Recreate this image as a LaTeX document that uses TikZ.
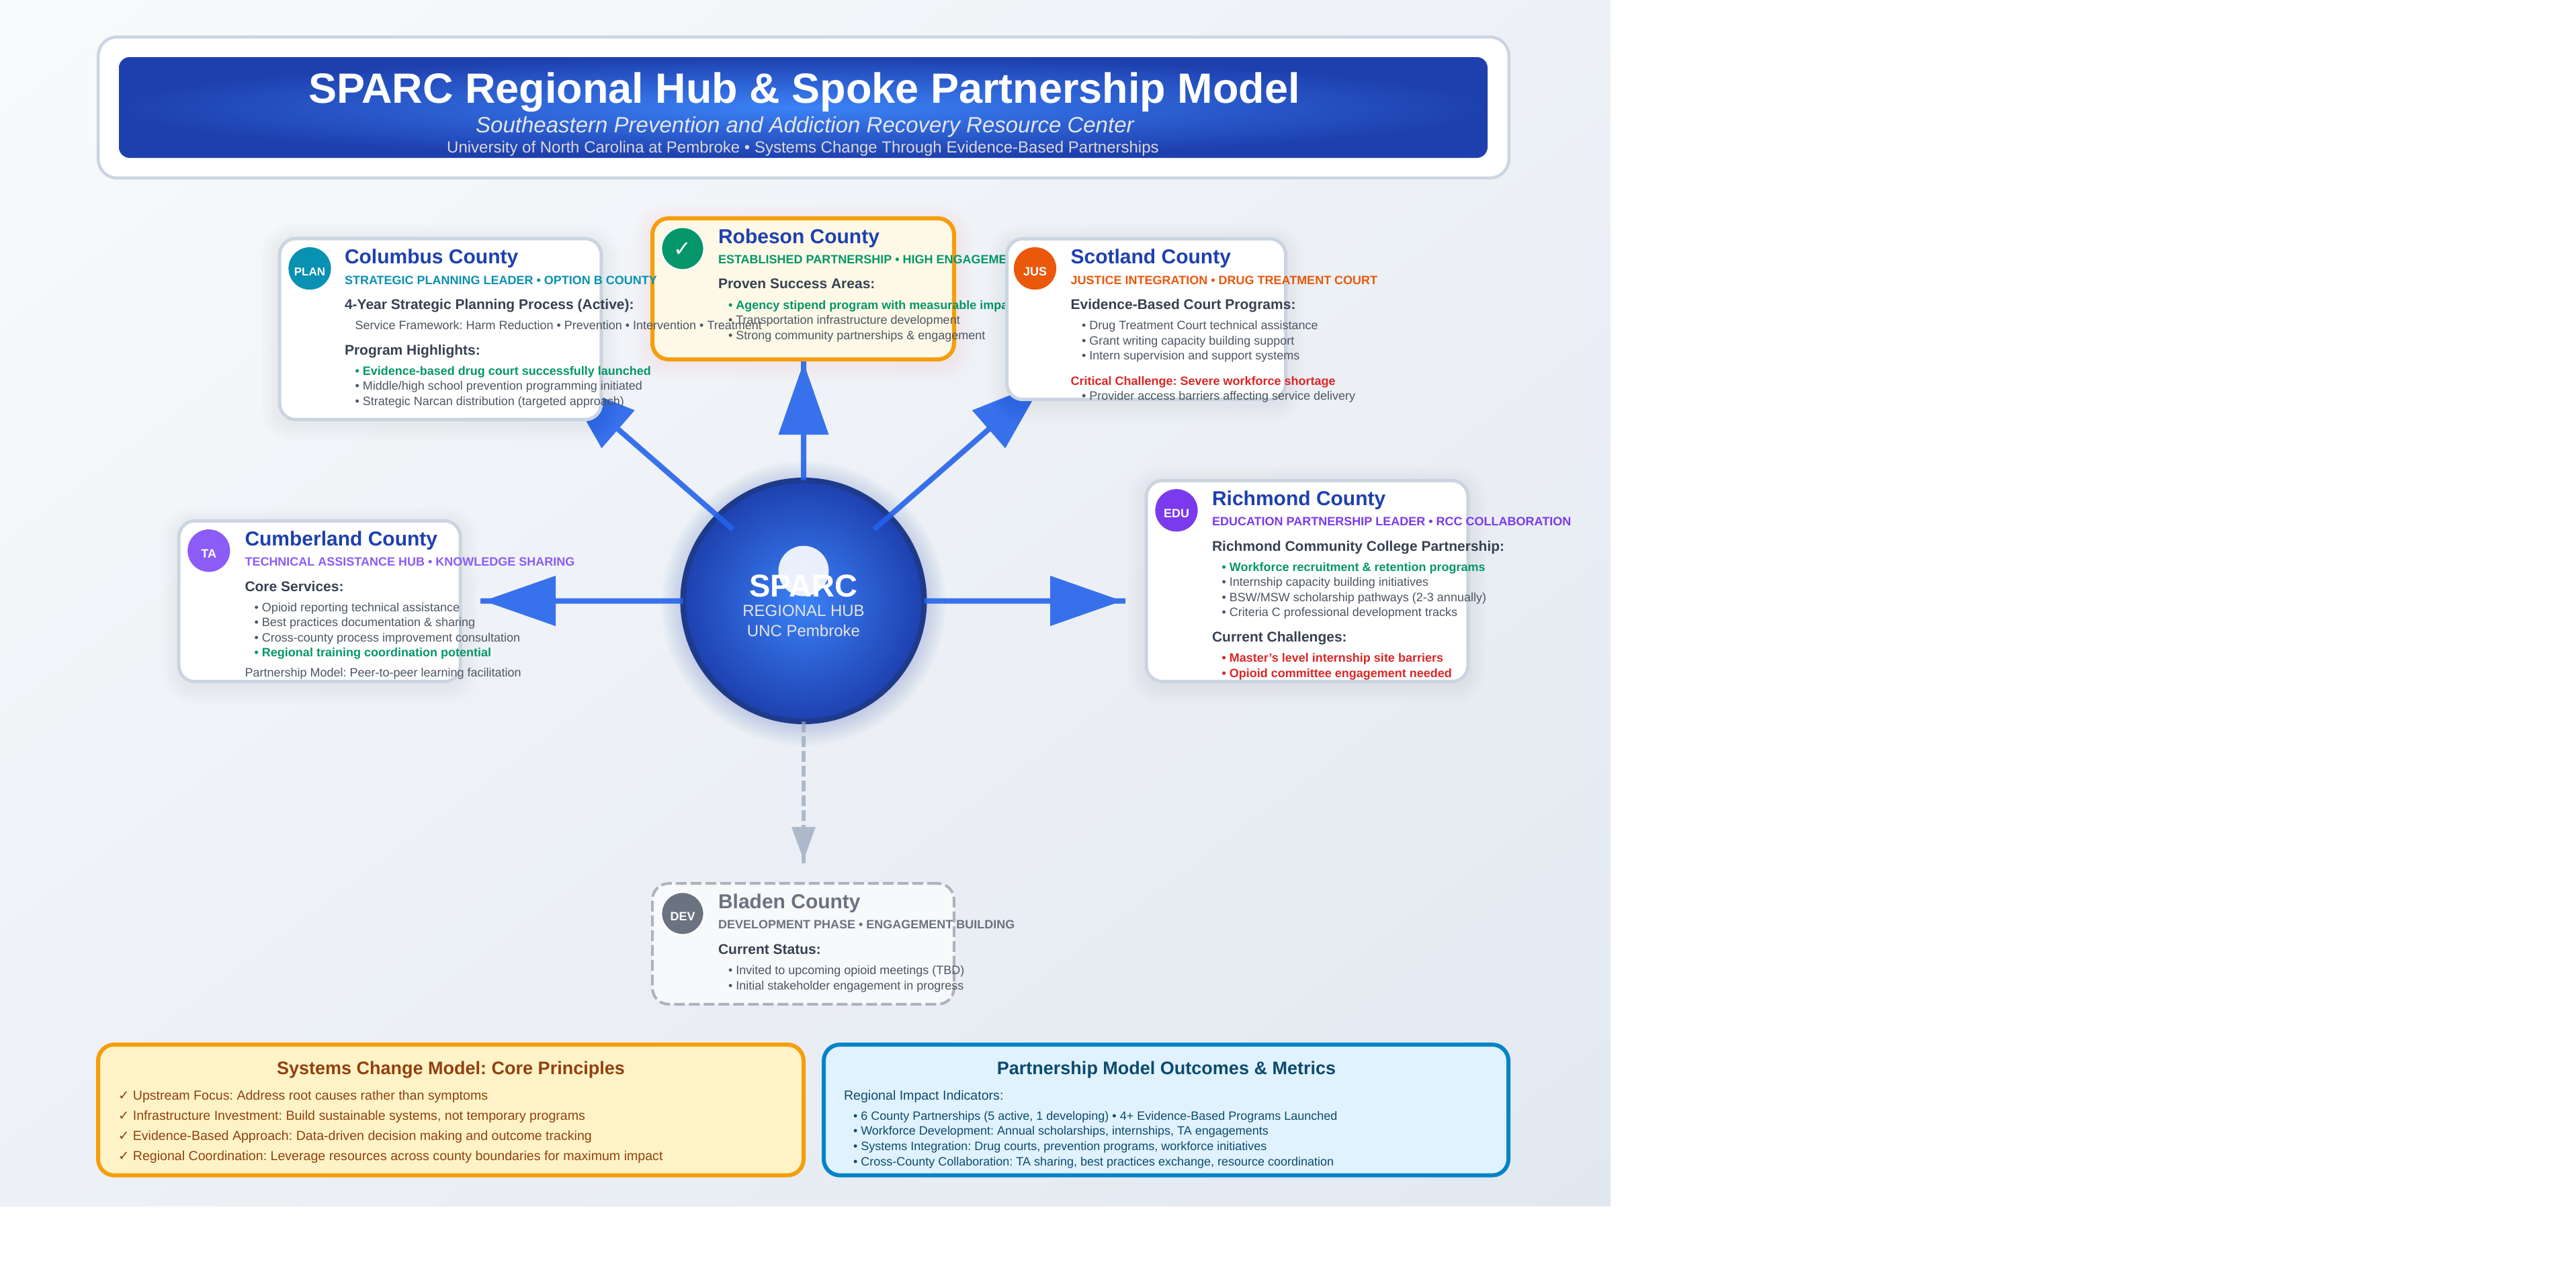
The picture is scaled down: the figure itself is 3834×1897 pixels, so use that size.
\documentclass[tikz,border=0pt]{standalone}
\usepackage{fontspec}
\setmainfont{Liberation Sans}
\newfontfamily\dvfont{DejaVu Sans}
\frenchspacing
\usetikzlibrary{arrows.meta}
\definecolor{bgA}{HTML}{F8FAFC}
\definecolor{bgB}{HTML}{E2E8F0}
\definecolor{hubIn}{HTML}{3B82F6}
\definecolor{hubOut}{HTML}{1E40AF}
\definecolor{hubRim}{HTML}{1E3A8A}
\definecolor{spoke}{HTML}{2563EB}
\definecolor{devline}{HTML}{94A3B8}
\definecolor{cardline}{HTML}{CBD5E1}
\definecolor{amber}{HTML}{F59E0B}
\definecolor{amberfill}{HTML}{FEF3C7}
\definecolor{creamfill}{HTML}{FEF9E7}
\definecolor{skyfill}{HTML}{E0F2FE}
\definecolor{nameblue}{HTML}{1E40AF}
\definecolor{body}{HTML}{4B5563}
\definecolor{head}{HTML}{374151}
\definecolor{good}{HTML}{059669}
\definecolor{bad}{HTML}{DC2626}
\definecolor{teal}{HTML}{0891B2}
\definecolor{orangeC}{HTML}{EA580C}
\definecolor{violetA}{HTML}{8B5CF6}
\definecolor{violetB}{HTML}{7C3AED}
\definecolor{greyC}{HTML}{6B7280}
\definecolor{brownC}{HTML}{92400E}
\definecolor{navyC}{HTML}{0C4A6E}
\definecolor{skyC}{HTML}{0284C7}
\pgfdeclareradialshading{hubshade}{\pgfpointorigin}{color(0bp)=(hubIn); color(25bp)=(hubOut); color(50bp)=(hubOut)}
\newcommand{\softshadow}[6]{% cx cy w h color opacity (px; w,h outer size)
  \foreach \k in {1,...,12}{
    \pgfmathsetmacro{\rr}{12+1.1*\k}
    \fill[#5,opacity=#6,rounded corners=\rr pt]
      ({#1-(#3)/2-2.2*\k},{#2-(#4)/2-2.2*\k+6}) rectangle ({#1+(#3)/2+2.2*\k},{#2+(#4)/2+2.2*\k+6});
  }}
\tikzset{
  x=0.5pt,y=-0.5pt,
  cardbox/.style={shape=rectangle,rounded corners=12pt,inner sep=0pt,outer sep=0pt,fill=white,draw=cardline,line width=2.5pt},
  badge/.style={shape=circle,minimum size=31.6pt,inner sep=0pt,outer sep=0pt,fill=#1},
  ringed/.style={draw=white,line width=1pt},
  tx/.style={anchor=base west,inner sep=0pt,outer sep=0pt},
  txc/.style={anchor=base,inner sep=0pt,outer sep=0pt},
  cname/.style={tx,font=\fontsize{15}{15}\selectfont\bfseries,text=nameblue},
  ctag/.style={tx,font=\fontsize{9}{9}\selectfont\bfseries,text=#1},
  chead/.style={tx,font=\fontsize{10.5}{10.5}\selectfont\bfseries,text=head},
  cbody/.style={tx,font=\fontsize{9}{9}\selectfont,text=body},
  cgood/.style={tx,font=\fontsize{9}{9}\selectfont\bfseries,text=good},
  cbad/.style={tx,font=\fontsize{9}{9}\selectfont\bfseries,text=bad},
  btext/.style={txc,font=\fontsize{9}{9}\selectfont\bfseries,text=white},
  spokeline/.style={draw=spoke,line width=4pt,-{Triangle[length=53.5pt,width=37.5pt,line width=0pt,sep=-7.5pt]Rectangle[length=10pt,width=4pt,line width=0pt]}},
  devspoke/.style={draw=devline,line width=3pt,dash pattern=on 8pt off 3pt,-{Triangle[length=24.5pt,width=18pt,line width=0pt,sep=-3.5pt]Rectangle[length=6pt,width=3pt,line width=0pt]}},
  panel/.style={shape=rectangle,rounded corners=12pt,inner sep=0pt,outer sep=0pt,line width=3pt},
  ptitle/.style={txc,font=\fontsize{13.5}{13.5}\selectfont\bfseries,text=#1},
  pline/.style={tx,font=\fontsize{9.8}{9.8}\selectfont,text=#1},
  mline/.style={tx,font=\fontsize{9}{9}\selectfont,text=navyC},
}
\begin{document}
\begin{tikzpicture}
\useasboundingbox (0,0) rectangle (3834,1897);
\fill[white] (0,0) rectangle (3834,1897);
% page background
\begin{scope}
\clip (0,0) rectangle (2396,1795);
\foreach \i in {0,...,44}{
  \pgfmathsetmacro{\t}{\i/44}
  \pgfmathsetmacro{\p}{100*\t}
  \fill[bgB!\p!bgA] ({2*\t*2396},0) -- (4792,0) -- (4792,3590) -- (0,3590) -- (0,{2*\t*1795}) -- cycle;
}
\end{scope}
% header
\node[shape=rectangle,rounded corners=14pt,inner sep=0pt,outer sep=0pt,fill=white,draw=cardline,line width=2.25pt,minimum width=1049.8pt,minimum height=104.9pt] (headerframe) at (1196,160) {};
\node[shape=rectangle,rounded corners=8pt,inner sep=0pt,outer sep=0pt,shading=hubshade,minimum width=1018.5pt,minimum height=75pt] (headerband) at (1195.5,160) {};
\node[txc,font=\fontsize{31.5}{31.5}\selectfont\bfseries,text=white] (title) at (1197,153) {SPARC Regional Hub \& Spoke Partnership Model};
\node[txc,font=\fontsize{16.5}{16.5}\selectfont\itshape,text=white!90!black] (subtitle) at (1198,197) {Southeastern Prevention and Addiction Recovery Resource Center};
\node[txc,font=\fontsize{12}{12}\selectfont,text=white!85!black] (tagline) at (1195,227) {University of North Carolina at Pembroke • Systems Change Through Evidence-Based Partnerships};
% hub
\foreach \k in {1,...,12}{
  \fill[hubOut,opacity=.014] (1196,898.5) circle ({(181+2.6*\k)*0.5pt});
}
\node[shape=circle,shading=hubshade,draw=hubRim,line width=4pt,minimum size=179.5pt,inner sep=0pt,outer sep=0pt] (hub) at (1196,894.5) {};
\fill[white,opacity=.9] (1196,850) circle (18.75pt);
\node[txc,font=\fontsize{23.5}{23.5}\selectfont\bfseries,text=white] (hubname) at (1196,888) {SPARC};
\node[txc,font=\fontsize{12}{12}\selectfont,text=white!90!black] (hubrole) at (1196,917.7) {REGIONAL HUB};
\node[txc,font=\fontsize{12}{12}\selectfont,text=white!90!black] (hubplace) at (1196,947.3) {UNC Pembroke};
% connector ends
\coordinate (startNW) at (1091,788);
\coordinate (startNE) at (1301,788);
\coordinate (endN) at (1196,535);
\coordinate (endNW) at (835.6,565.4);
\coordinate (endNE) at (1555.9,565.4);
\coordinate (endE) at (1675,894.5);
\coordinate (endW) at (715,894.5);
\coordinate (endS) at (1196,1285);
\begin{scope}[transparency group,opacity=.9]
\draw[spokeline] (hub.north) -- (endN);
\draw[spokeline] (startNW) -- (endNW);
\draw[spokeline] (startNE) -- (endNE);
\draw[spokeline] (hub.east) -- (endE);
\draw[spokeline] (hub.west) -- (endW);
\end{scope}
\begin{scope}[transparency group,opacity=.7]
\draw[devspoke] (hub.south) -- (endS);
\end{scope}
% Robeson
\softshadow{1195.5}{430}{455}{216}{amber}{.005}
\node[cardbox,fill=creamfill,draw=amber,line width=3pt,minimum width=224.5pt,minimum height=105pt] (robeson) at (1195.5,430) {};
\node[badge=good,ringed] (robesonB) at (1016,370) {};
\node[txc,font=\fontsize{16}{16}\selectfont\dvfont,text=white] (robesonBT) at (1016,381.7) {✓};
\node[cname] (robesonN) at (1069,362.7) {Robeson County};
\node[ctag=good] (robesonS) at (1069,392.7) {ESTABLISHED PARTNERSHIP • HIGH ENGAGEMENT};
\node[chead] (robesonH) at (1069,429.3) {Proven Success Areas:};
\node[cgood] (robesonA) at (1084,460) {• Agency stipend program with measurable impact};
\node[cbody] (robesonC) at (1084,482.7) {• Transportation infrastructure development};
\node[cbody] (robesonD) at (1084,505) {• Strong community partnerships \& engagement};
% Columbus
\softshadow{655.5}{489.9}{483}{274.3}{black}{.004}
\node[cardbox,minimum width=239.4pt,minimum height=134.7pt] (columbus) at (655.5,489.9) {};
\node[badge=teal] (columbusB) at (461,399.6) {};
\node[btext,font=\fontsize{8.5}{8.5}\selectfont\bfseries] (columbusBT) at (461,410.7) {PLAN};
\node[cname] (columbusN) at (513,392.7) {Columbus County};
\node[ctag=teal] (columbusS) at (513,423) {STRATEGIC PLANNING LEADER • OPTION B COUNTY};
\node[chead] (columbusH) at (513,460) {4-Year Strategic Planning Process (Active):};
\node[cbody] (columbusA) at (528.5,490) {Service Framework: Harm Reduction • Prevention • Intervention • Treatment};
\node[chead] (columbusH2) at (513,528) {Program Highlights:};
\node[cgood] (columbusC) at (528.5,558) {• Evidence-based drug court successfully launched};
\node[cbody] (columbusD) at (528.5,580.7) {• Middle/high school prevention programming initiated};
\node[cbody] (columbusE) at (528.5,603) {• Strategic Narcan distribution (targeted approach)};
% Scotland
\softshadow{1706}{475}{420}{244}{black}{.004}
\node[cardbox,minimum width=207.5pt,minimum height=119.7pt] (scotland) at (1706,475) {};
\node[badge=orangeC] (scotlandB) at (1540.5,399.6) {};
\node[btext] (scotlandBT) at (1540.5,410.7) {JUS};
\node[cname] (scotlandN) at (1593.6,392.7) {Scotland County};
\node[ctag=orangeC] (scotlandS) at (1593.6,423) {JUSTICE INTEGRATION • DRUG TREATMENT COURT};
\node[chead] (scotlandH) at (1593.6,460) {Evidence-Based Court Programs:};
\node[cbody] (scotlandA) at (1610,490) {• Drug Treatment Court technical assistance};
\node[cbody] (scotlandC) at (1610,513) {• Grant writing capacity building support};
\node[cbody] (scotlandD) at (1610,535) {• Intern supervision and support systems};
\node[cbad] (scotlandE) at (1593.6,573) {Critical Challenge: Severe workforce shortage};
\node[cbody] (scotlandF) at (1610,595) {• Provider access barriers affecting service delivery};
% Cumberland
\softshadow{475.7}{895}{422.5}{244}{black}{.004}
\node[cardbox,minimum width=209.5pt,minimum height=119.7pt] (cumberland) at (475.7,895) {};
\node[badge=violetA] (cumberlandB) at (310.8,819.7) {};
\node[btext] (cumberlandBT) at (310.8,830.7) {TA};
\node[cname] (cumberlandN) at (364.5,812.7) {Cumberland County};
\node[ctag=violetA] (cumberlandS) at (364.5,842.7) {TECHNICAL ASSISTANCE HUB • KNOWLEDGE SHARING};
\node[chead] (cumberlandH) at (364.5,880) {Core Services:};
\node[cbody] (cumberlandA) at (378.7,910) {• Opioid reporting technical assistance};
\node[cbody] (cumberlandC) at (378.7,932.7) {• Best practices documentation \& sharing};
\node[cbody] (cumberlandD) at (378.7,955) {• Cross-county process improvement consultation};
\node[cgood] (cumberlandE) at (378.7,977.7) {• Regional training coordination potential};
\node[cbody] (cumberlandF) at (364.5,1007.7) {Partnership Model: Peer-to-peer learning facilitation};
% Richmond
\softshadow{1945.5}{865}{483}{304}{black}{.004}
\node[cardbox,minimum width=239.4pt,minimum height=149.6pt] (richmond) at (1945.5,865) {};
\node[badge=violetB] (richmondB) at (1751,759.7) {};
\node[btext] (richmondBT) at (1751,770.7) {EDU};
\node[cname] (richmondN) at (1804,752.7) {Richmond County};
\node[ctag=violetB] (richmondS) at (1804,782.7) {EDUCATION PARTNERSHIP LEADER • RCC COLLABORATION};
\node[chead] (richmondH) at (1804,820) {Richmond Community College Partnership:};
\node[cgood] (richmondA) at (1818.6,850) {• Workforce recruitment \& retention programs};
\node[cbody] (richmondC) at (1818.6,872.7) {• Internship capacity building initiatives};
\node[cbody] (richmondD) at (1818.6,895) {• BSW/MSW scholarship pathways (2-3 annually)};
\node[cbody] (richmondE) at (1818.6,917.7) {• Criteria C professional development tracks};
\node[chead] (richmondH2) at (1804,955) {Current Challenges:};
\node[cbad] (richmondF) at (1818.6,985) {• Master's level internship site barriers};
\node[cbad] (richmondG) at (1818.6,1008) {• Opioid committee engagement needed};
% Bladen
\node[cardbox,fill=white,fill opacity=.65,draw=greyC,draw opacity=.5,line width=2pt,dash pattern=on 8pt off 3pt,minimum width=224.4pt,minimum height=89.8pt] (bladen) at (1195.5,1405) {};
\node[badge=greyC,ringed] (bladenB) at (1016,1359.8) {};
\node[btext] (bladenBT) at (1016,1370.7) {DEV};
\node[cname,text=greyC] (bladenN) at (1069,1352.7) {Bladen County};
\node[ctag=greyC] (bladenS) at (1069,1382.7) {DEVELOPMENT PHASE • ENGAGEMENT BUILDING};
\node[chead] (bladenH) at (1069,1420) {Current Status:};
\node[cbody] (bladenA) at (1084,1450.7) {• Invited to upcoming opioid meetings (TBD)};
\node[cbody] (bladenC) at (1084,1473) {• Initial stakeholder engagement in progress};
% Bottom panels
\node[panel,fill=amberfill,draw=amber,minimum width=525pt,minimum height=97.3pt] (principles) at (671,1652.3) {};
\node[ptitle=brownC] (principlesT) at (671,1599.3) {Systems Change Model: Core Principles};
\node[pline=brownC] (principlesA) at (176,1637) {{\dvfont ✓} Upstream Focus: Address root causes rather than symptoms};
\node[pline=brownC] (principlesC) at (176,1667) {{\dvfont ✓} Infrastructure Investment: Build sustainable systems, not temporary programs};
\node[pline=brownC] (principlesD) at (176,1697) {{\dvfont ✓} Evidence-Based Approach: Data-driven decision making and outcome tracking};
\node[pline=brownC] (principlesE) at (176,1727) {{\dvfont ✓} Regional Coordination: Leverage resources across county boundaries for maximum impact};
\node[panel,fill=skyfill,draw=skyC,minimum width=509.5pt,minimum height=97.3pt] (metrics) at (1735.5,1652.3) {};
\node[ptitle=navyC] (metricsT) at (1736,1599.3) {Partnership Model Outcomes \& Metrics};
\node[pline=navyC] (metricsH) at (1256,1637) {Regional Impact Indicators:};
\node[mline] (metricsA) at (1270,1667) {• 6 County Partnerships (5 active, 1 developing) • 4+ Evidence-Based Programs Launched};
\node[mline] (metricsC) at (1270,1689) {• Workforce Development: Annual scholarships, internships, TA engagements};
\node[mline] (metricsD) at (1270,1712) {• Systems Integration: Drug courts, prevention programs, workforce initiatives};
\node[mline] (metricsE) at (1270,1735) {• Cross-County Collaboration: TA sharing, best practices exchange, resource coordination};
\end{tikzpicture}
\end{document}
